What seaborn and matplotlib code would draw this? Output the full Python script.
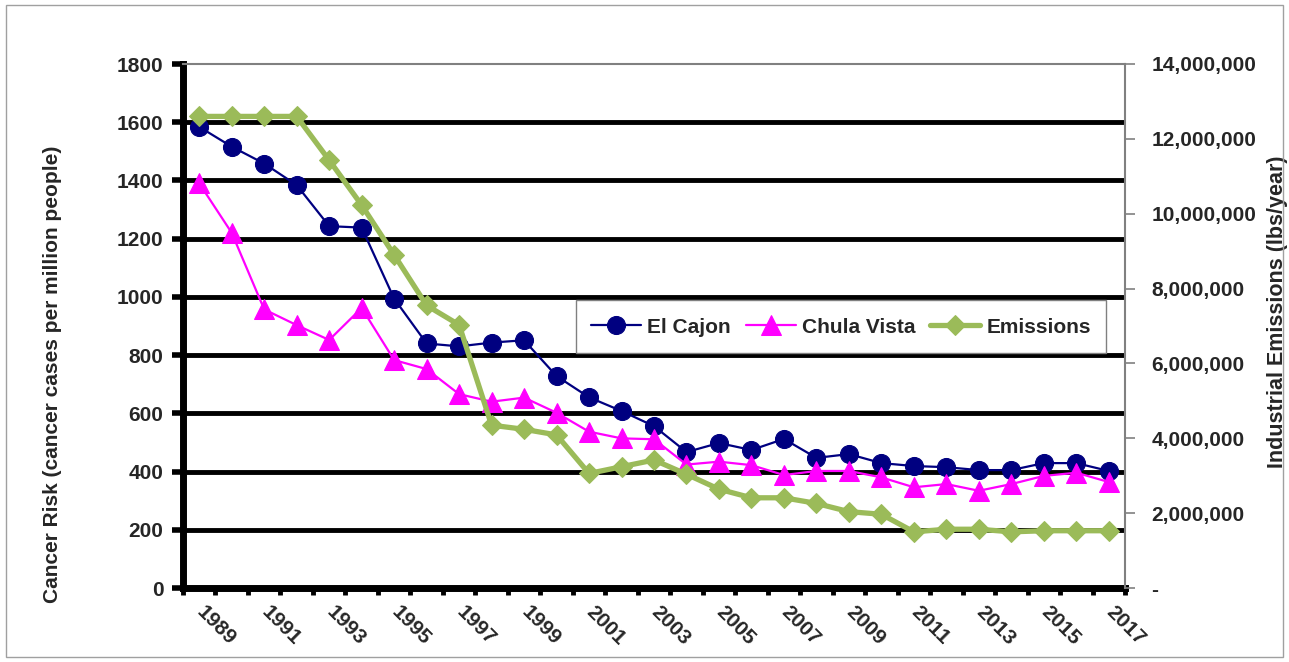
import numpy as np
import pandas as pd
import seaborn as sns
import matplotlib.pyplot as plt
from matplotlib.ticker import FuncFormatter, FixedLocator
from matplotlib.patches import Rectangle

# %% Data

years = list(range(1989, 2018))

el_cajon = [1584, 1516, 1458, 1384, 1243, 1238, 994, 840, 830, 843,
            851, 728, 655, 608, 556, 467, 498, 474, 512, 447,
            460, 429, 419, 415, 405, 405, 429, 429, 402]

chula_vista = [1390, 1220, 957, 903, 852, 962, 783, 752, 666, 640,
               654, 602, 537, 514, 511, 424, 434, 422, 388, 402,
               402, 380, 346, 357, 334, 357, 385, 396, 364]

emissions = [12.6e6, 12.6e6, 12.6e6, 12.6e6, 11.43e6, 10.23e6, 8.90e6,
             7.55e6, 7.03e6, 4.35e6, 4.24e6, 4.09e6, 3.06e6, 3.24e6,
             3.42e6, 3.04e6, 2.64e6, 2.41e6, 2.41e6, 2.26e6, 2.04e6,
             1.97e6, 1.50e6, 1.57e6, 1.57e6, 1.50e6, 1.53e6, 1.53e6,
             1.53e6]

left_ticks = [0, 200, 400, 600, 800, 1000, 1200, 1400, 1600, 1800]
right_ticks = [0, 2e6, 4e6, 6e6, 8e6, 10e6, 12e6, 14e6]

df = pd.DataFrame({'idx': np.arange(len(years)), 'year': years,
                   'El Cajon': el_cajon, 'Chula Vista': chula_vista,
                   'Emissions': emissions})

# %% Plot

sns.set_style('white')
plt.rcParams['font.family'] = ['Liberation Sans', 'DejaVu Sans']
plt.rcParams['font.weight'] = 'bold'

fig = plt.figure(figsize=(12.89, 6.62), dpi=100)
ax = fig.add_axes([183 / 1289, 74 / 662, 942 / 1289, 524 / 662])
ax2 = ax.twinx()

sns.lineplot(data=df, x='idx', y='El Cajon', ax=ax, color='#000080',
             marker='o', markersize=13, linewidth=1.6,
             markeredgecolor='#000080', label='El Cajon')
sns.lineplot(data=df, x='idx', y='Chula Vista', ax=ax, color='#FF00FF',
             marker='^', markersize=14, linewidth=1.6,
             markeredgecolor='#FF00FF', label='Chula Vista')
sns.lineplot(data=df, x='idx', y='Emissions', ax=ax2, color='#9BBB59',
             marker='D', markersize=10, linewidth=3.8,
             markeredgecolor='#9BBB59', label='Emissions')

# left axis
ax.set_xlim(-0.5, len(years) - 0.5)
ax.set_ylim(0, 1800)
ax.set_yticks(left_ticks)
ax.tick_params(axis='y', labelsize=15, length=8, width=4, color='black',
               pad=6, direction='out', left=True)
ax.yaxis.grid(True, color='black', linewidth=3.5)
ax.get_ygridlines()[-1].set_visible(False)
ax.set_axisbelow(True)
for lbl in ax.get_yticklabels():
    lbl.set_fontweight('bold')

# x axis: ticks at category boundaries, labels on odd years
ax.xaxis.set_minor_locator(FixedLocator(np.arange(-0.5, len(years), 1)))
ax.set_xticks(df['idx'][::2])
ax.set_xticklabels(df['year'][::2], rotation=-45, ha='left',
                   va='center', rotation_mode='anchor',
                   fontsize=15, fontweight='bold')
ax.tick_params(axis='x', which='major', length=0, pad=15)
ax.tick_params(axis='x', which='minor', length=5, width=3.5,
               color='black', direction='out', bottom=True)
ax.set_xlabel('')
ax.set_ylabel('Cancer Risk (cancer cases per million people)',
              fontsize=15, fontweight='bold')
ax.yaxis.set_label_coords(-0.1285, 0.408)

for side in ['left', 'bottom']:
    ax.spines[side].set_color('black')
    ax.spines[side].set_linewidth(5)
ax.spines['top'].set_color('#808080')
ax.spines['top'].set_linewidth(1.5)
ax.spines['right'].set_visible(False)

# right axis
ax2.set_ylim(0, 14e6)
ax2.set_yticks(right_ticks)
ax2.yaxis.set_major_formatter(
    FuncFormatter(lambda v, p: '-' if v == 0 else f'{int(v):,}'))
ax2.tick_params(axis='y', labelsize=15, length=7, width=1.2,
                color='#808080', pad=12, direction='out', right=True)
for lbl in ax2.get_yticklabels():
    lbl.set_fontweight('bold')
ax2.set_ylabel('Industrial Emissions (lbs/year)', fontsize=15.5,
               fontweight='bold')
ax2.yaxis.set_label_coords(1.1507, 0.527)
ax2.spines['right'].set_color('#808080')
ax2.spines['right'].set_linewidth(1.5)
for side in ['left', 'bottom', 'top']:
    ax2.spines[side].set_visible(False)

# legend
h1, l1 = ax.get_legend_handles_labels()
h2, l2 = ax2.get_legend_handles_labels()
ax.get_legend().remove()
ax2.get_legend().remove()
leg = ax2.legend(h1 + h2, l1 + l2, loc='center', ncol=3,
                 bbox_to_anchor=(0.6985, 0.499), frameon=True,
                 fancybox=False, framealpha=1, edgecolor='#808080',
                 prop={'size': 15, 'weight': 'bold'}, handlelength=2.4,
                 columnspacing=0.7, handletextpad=0.3, borderpad=0.75,
                 handleheight=1.1)
leg.get_frame().set_linewidth(1)

# thin border around the chart area
fig.patches.append(Rectangle((6 / 1289, 5 / 662), 1277 / 1289, 652 / 662,
                             transform=fig.transFigure, fill=False,
                             edgecolor='#A0A0A0', linewidth=1))

fig.savefig('out.png', dpi=100)
